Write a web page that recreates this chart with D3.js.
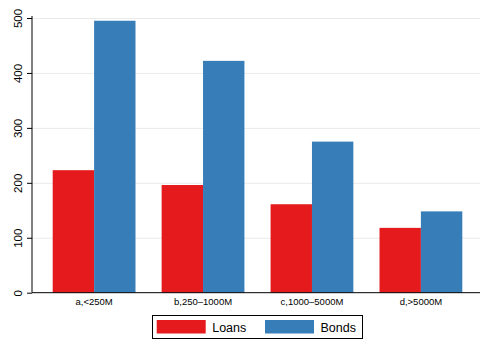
<!DOCTYPE html>
<html>
<head>
<meta charset="utf-8">
<script src="https://d3js.org/d3.v7.min.js"></script>
<style>
  body { margin: 0; background: #fff; }
  text { font-family: "Liberation Sans", Arial, sans-serif; fill: #000; }
  .grid line { stroke: #eaeaea; stroke-width: 1; }
  .grid path { display: none; }
</style>
</head>
<body>
<script>
var categories = ["a,<250M", "b,250\u20131000M", "c,1000\u20135000M", "d,>5000M"];
var seriesNames = ["Loans", "Bonds"];
var loans = [223, 196, 161, 118];
var bonds = [495, 422, 275, 148];
var yTicks = [0, 100, 200, 300, 400, 500];
var colors = ["#e41a1c", "#377eb8"];

var W = 480, H = 339;
var plotLeft = 32, plotRight = 483, plotTop = 18, plotBottom = 292.7;

var svg = d3.select("body").append("svg")
    .attr("width", W)
    .attr("height", H);

var x = d3.scaleBand().domain(categories).range([plotLeft, plotRight])
    .paddingInner(0.24).paddingOuter(0.19);
var xs = d3.scaleBand().domain(seriesNames).range([0, x.bandwidth()]);
var y = d3.scaleLinear().domain([0, 500]).range([plotBottom, plotTop]);

// gridlines
svg.append("g")
    .attr("class", "grid")
    .attr("transform", "translate(" + plotLeft + ",0)")
    .call(d3.axisLeft(y).tickValues(yTicks.slice(1)).tickSize(-(W - plotLeft)).tickFormat(""));

// bars
var data = categories.map(function(c, i) {
  return { cat: c, vals: [loans[i], bonds[i]] };
});
var groups = svg.selectAll(".grp").data(data).enter().append("g")
    .attr("transform", function(d) { return "translate(" + x(d.cat) + ",0)"; });
groups.selectAll("rect").data(function(d) { return d.vals; }).enter().append("rect")
    .attr("x", function(d, i) { return xs(seriesNames[i]); })
    .attr("y", function(d) { return y(d); })
    .attr("width", xs.bandwidth())
    .attr("height", function(d) { return plotBottom - y(d); })
    .attr("fill", function(d, i) { return colors[i]; });

// y axis
var yAxis = svg.append("g")
    .attr("transform", "translate(" + plotLeft + ",0)")
    .call(d3.axisLeft(y).tickValues(yTicks).tickSize(5).tickSizeOuter(0));
yAxis.select(".domain").attr("stroke", "#000").attr("d", "M0," + plotBottom + "V" + (plotTop - 2));
yAxis.selectAll(".tick line").attr("stroke", "#000");
yAxis.selectAll(".tick text")
    .attr("transform", "rotate(-90)")
    .attr("x", 0)
    .attr("y", -10)
    .attr("dy", 0)
    .style("text-anchor", "middle")
    .style("font-size", "11.5px")
    .style("font-family", "Liberation Sans, Arial, sans-serif");

// x axis
svg.append("line")
    .attr("x1", plotLeft).attr("x2", W)
    .attr("y1", plotBottom).attr("y2", plotBottom)
    .attr("stroke", "#000").attr("stroke-width", 1);
svg.selectAll(".xlab").data(categories).enter().append("text")
    .attr("x", function(d) { return x(d) + x.bandwidth() / 2; })
    .attr("y", 305)
    .attr("text-anchor", "middle")
    .style("font-size", "9.5px")
    .text(function(d) { return d; });

// legend
var lg = svg.append("g");
lg.append("rect")
    .attr("x", 152.5).attr("y", 315.5)
    .attr("width", 210).attr("height", 23)
    .attr("fill", "#fff").attr("stroke", "#000").attr("stroke-width", 1);
var legX = [156.7, 265];
seriesNames.forEach(function(s, i) {
  lg.append("rect")
      .attr("x", legX[i]).attr("y", 320)
      .attr("width", 49).attr("height", 13.5)
      .attr("fill", colors[i]);
  lg.append("text")
      .attr("x", legX[i] + 55.5).attr("y", 331.5)
      .style("font-size", "12.5px")
      .text(s);
});
</script>
</body>
</html>
